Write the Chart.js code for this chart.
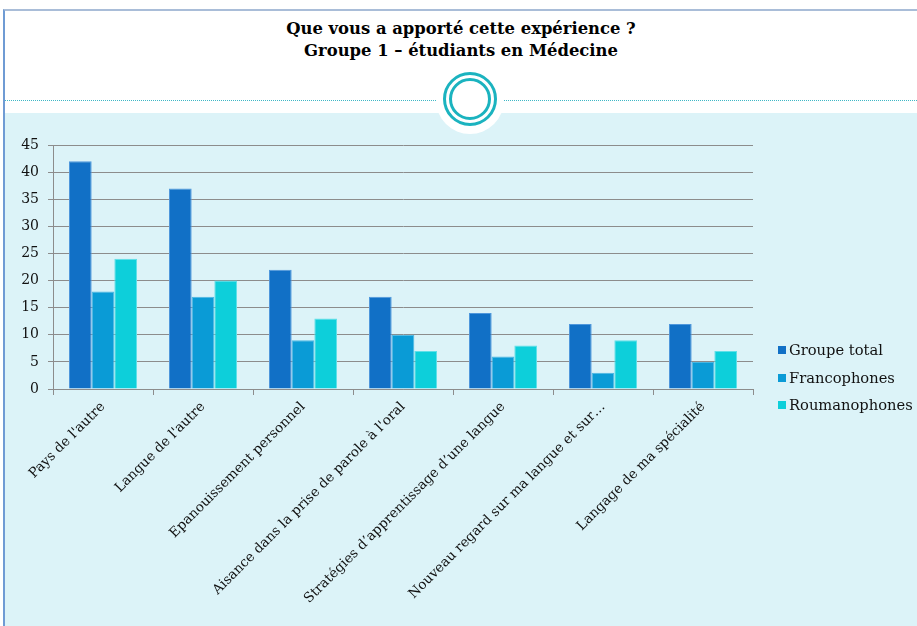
<!DOCTYPE html>
<html lang="fr">
<head>
<meta charset="utf-8">
<script src="https://cdn.jsdelivr.net/npm/chart.js@4"></script>
<style>
  body { margin: 0; background: #fff; font-family: "DejaVu Serif", serif; }
  #frame { position: absolute; left: 3px; top: 9px; width: 914px; height: 617px;
           border-left: 2px solid #6f9bd4; border-top: 2px solid #a9bdd8; }
  #title { position: absolute; left: 5px; top: 18px; width: 912px; text-align: center;
           font-weight: bold; font-size: 16.4px; line-height: 22px; color: #000; }
  #panel { position: absolute; left: 5px; top: 113px; width: 912px; height: 513px; background: #dcf3f8; }
  .dots { position: absolute; top: 100px; height: 0; border-top: 1px dotted #3fb7c6; }
  #badge { position: absolute; left: 436px; top: 66px; width: 68px; height: 68px; border-radius: 50%; background: #fff; }
  #ring { position: absolute; left: 443px; top: 72px; width: 48px; height: 48px; border-radius: 50%;
          border: 3px solid #1bb3bf; }
  #ring::after { content: ""; position: absolute; left: 3px; top: 3px; right: 3px; bottom: 3px;
          border-radius: 50%; border: 3px solid #1bb3bf; }
  #box { position: absolute; left: 5px; top: 113px; width: 912px; height: 513px; }
  #legend { position: absolute; left: 778px; top: 338px; font-size: 14.7px; color: #111; }
  #legend div { height: 27.5px; line-height: 24px; white-space: nowrap; }
  #legend span { display: inline-block; width: 8px; height: 8px; margin-right: 3px; vertical-align: 1px; }
</style>
</head>
<body>
<div id="frame"></div>
<div id="title">Que vous a apporté cette expérience ?<br>Groupe 1 – étudiants en Médecine</div>
<div class="dots" style="left:5px;width:433px"></div>
<div class="dots" style="left:500px;width:417px"></div>
<div id="panel"></div>
<div id="badge"></div>
<div id="ring"></div>
<div id="box"><canvas id="salesChart"></canvas></div>
<div id="legend"></div>

<script>
// -------------------------------
// DATA
// -------------------------------
const categories = [
    "Pays de l'autre",
    "Langue de l'autre",
    "Epanouissement personnel",
    "Aisance dans la prise de parole à l'oral",
    "Stratégies d’apprentissage d’une langue",
    "Nouveau regard sur ma langue et sur…",
    "Langage de ma spécialité"
];
const groupeTotal = [42, 37, 22, 17, 14, 12, 12];
const francophones = [18, 17, 9, 10, 6, 3, 5];
const roumanophones = [24, 20, 13, 7, 8, 9, 7];
const seriesNames = ["Groupe total", "Francophones", "Roumanophones"];
const seriesColors = ["#1170c6", "#0a9bd6", "#0dcfda"];
const seriesEdges = ["#4f97dc", "#49b6e2", "#5fe0e8"];

// -------------------------------
// CHART
// -------------------------------
const ctx = document.getElementById("salesChart");

const chart = new Chart(ctx, {
    type: "bar",
    data: {
        labels: categories,
        datasets: [groupeTotal, francophones, roumanophones].map((vals, i) => ({
            label: seriesNames[i],
            data: vals,
            backgroundColor: seriesColors[i],
            borderColor: seriesEdges[i],
            borderWidth: { top: 1, left: 1, right: 1, bottom: 0 },
            categoryPercentage: 0.68,
            barPercentage: 1
        }))
    },
    options: {
        responsive: true,
        maintainAspectRatio: false,
        animation: false,
        layout: { padding: { left: 5, top: 32, right: 164, bottom: 0 } },
        plugins: { legend: { display: false }, tooltip: { enabled: false } },
        scales: {
            x: {
                afterFit: s => { s.height = 237; },
                grid: { drawOnChartArea: false, color: "#8c8c8c", tickLength: 6 },
                border: { color: "#8c8c8c" },
                ticks: { font: { family: "DejaVu Serif", size: 13.5 }, color: "#111",
                         minRotation: 45, maxRotation: 45, autoSkip: false, padding: 4, labelOffset: 0 }
            },
            y: {
                min: 0, max: 45,
                afterFit: s => { s.width = 43; },
                grid: { color: "#8c8c8c", tickLength: 5 },
                border: { color: "#8c8c8c" },
                ticks: { stepSize: 5, font: { family: "DejaVu Serif", size: 14 }, color: "#111", padding: 9 }
            }
        }
    }
});

// ---- legend ----
document.getElementById("legend").innerHTML = chart.data.datasets.map(d =>
    `<div><span style="background:${d.backgroundColor}"></span>${d.label}</div>`
).join("");
</script>
</body>
</html>
